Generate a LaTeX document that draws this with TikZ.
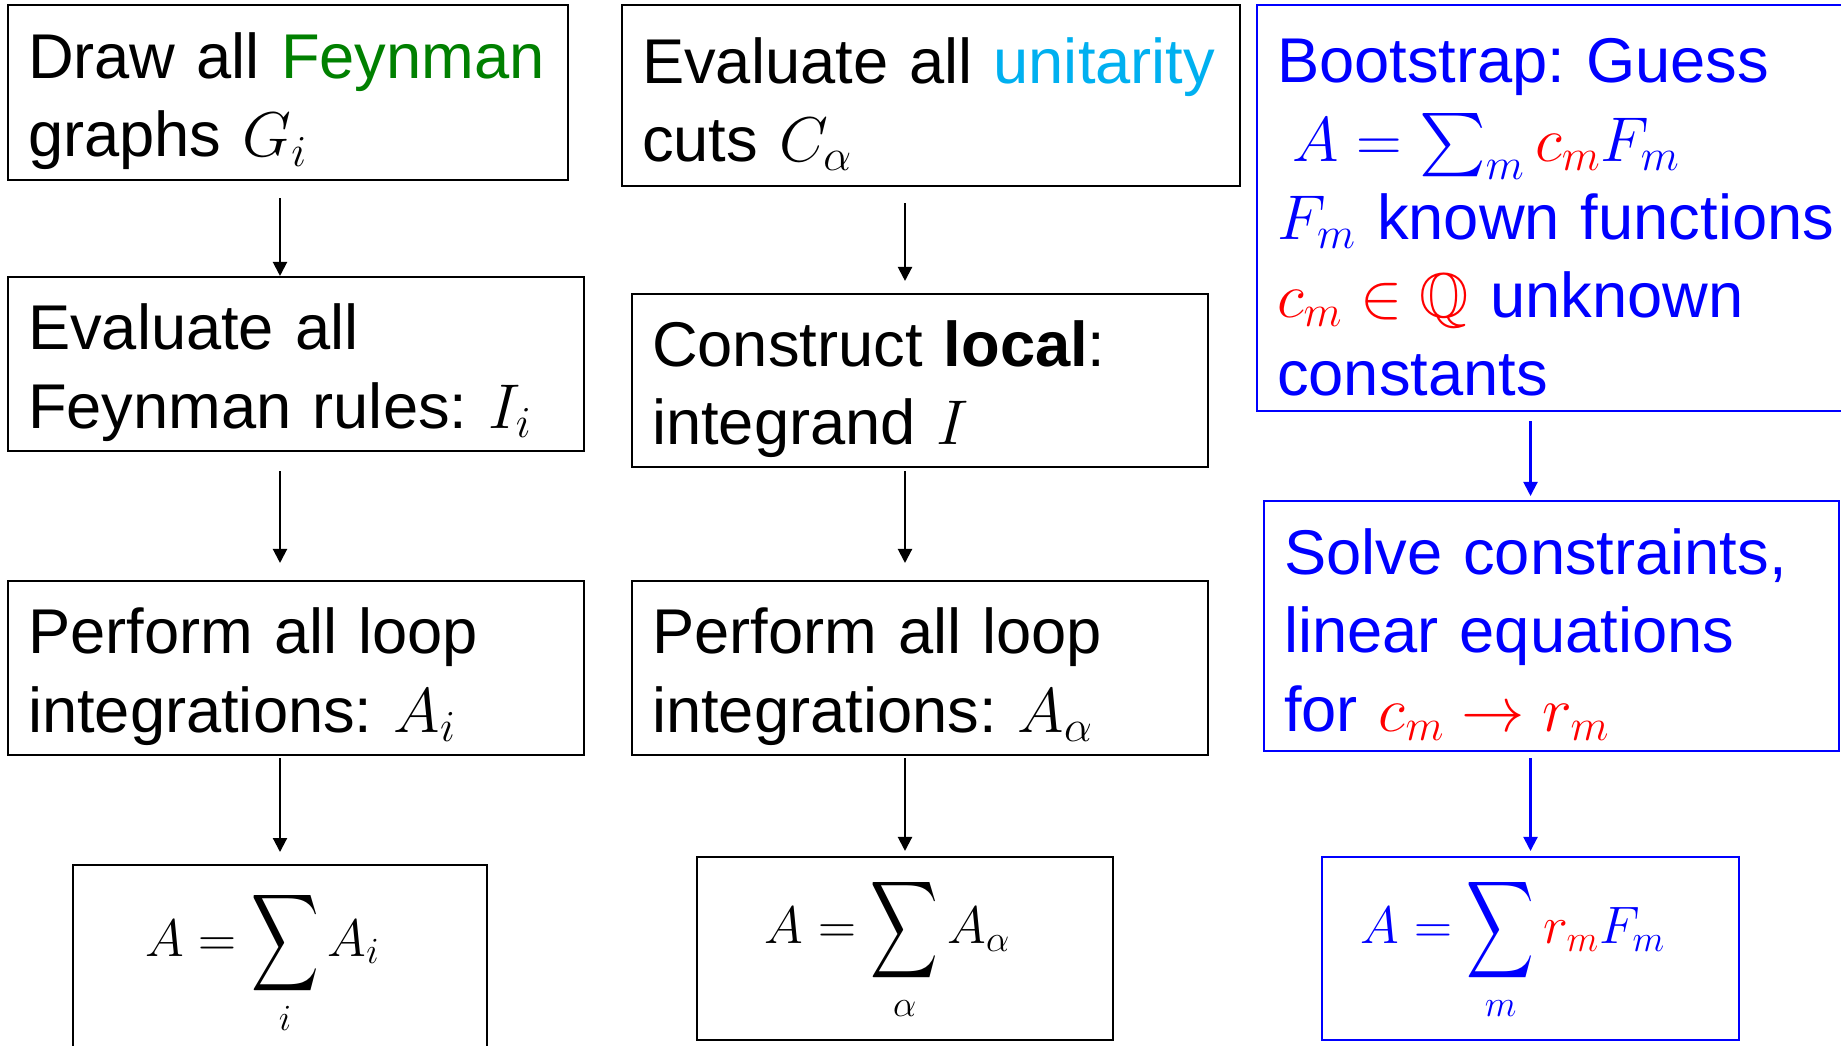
\RequirePackage{fix-cm}
\documentclass[tikz,border=0pt]{standalone}
\usepackage{fontspec}
\setmainfont{Liberation Sans}
\usepackage{amssymb}
\usepackage{graphicx}
\usetikzlibrary{arrows.meta}

\definecolor{feyngreen}{RGB}{0,128,0}
\definecolor{cutcyan}{RGB}{0,176,240}
\definecolor{bootblue}{RGB}{0,0,255}
\definecolor{bootred}{RGB}{255,0,0}

\newcommand{\sumbig}{\mathop{\vcenter{\hbox{\scalebox{0.89}[1.29]{$\displaystyle\sum$}}}}\limits}

\tikzset{
    stepbox/.style = {
        draw,
        shape=rectangle,
        line width=1.2pt,
        inner xsep=0.4cm,
        inner ysep=0pt,
        align=left,
        font=\fontsize{36}{44.5}\selectfont\frenchspacing,
        execute at begin node={\rule{0pt}{1em}}
    },
    sumbox/.style = {
        draw,
        shape=rectangle,
        line width=1.2pt,
        font=\fontsize{30}{36}\selectfont,
        execute at end node={\hspace*{0.7cm}}
    },
    boot/.style = {
        draw=bootblue,
        text=bootblue
    },
    flow/.style = {
        draw,
        line width=1.2pt,
        -{Triangle[length=0.28cm,width=0.28cm]}
    },
}

\begin{document}
\begin{tikzpicture}[x=0.02cm, y=-0.02cm]
            \clip (0,0) rectangle (1841,1045);
            \fill[white] (0,0) rectangle (1841,1045);

            % Feynman graphs
            \node[stepbox, text width=10.4cm, minimum height=3.5cm] (graphs) at (288,92.5) {Draw all \textcolor{feyngreen}{Feynman}\\graphs $G_i$};
            \node[stepbox, text width=10.72cm, minimum height=3.48cm] (rules) at (296,364) {Evaluate all\\Feynman rules: $I_i$};
            \node[stepbox, text width=10.72cm, minimum height=3.48cm] (loopsI) at (296,668) {Perform all loop\\integrations: $A_i$};
            \node[sumbox, anchor=north, inner sep=0pt, minimum width=8.28cm, text height=1.82cm, text depth=2.6cm] (sumI) at (280,864) {$A=\sumbig_i A_i$};

            % unitarity
            \node[stepbox, text width=11.56cm, minimum height=3.62cm] (cuts) at (931,95.5) {Evaluate all \textcolor{cutcyan}{unitarity}\\cuts $C_\alpha$};
            \node[stepbox, text width=10.72cm, minimum height=3.46cm] (local) at (920,380.5) {Construct \textbf{local}:\\integrand $I$};
            \node[stepbox, text width=10.72cm, minimum height=3.48cm] (loopsA) at (920,668) {Perform all loop\\integrations: $A_\alpha$};
            \node[sumbox, minimum width=8.32cm, minimum height=3.66cm] (sumA) at (905,948.5) {$A=\sumbig_\alpha A_\alpha$};

            % bootstrap
            \node[stepbox, boot, anchor=west, text width=12.4cm, minimum height=8.12cm] (guess) at (1256,208) {Bootstrap: Guess\\\hspace*{0.3cm}$A=\sum_m \textcolor{bootred}{c_m}F_m$\\$F_m$ known functions\\\textcolor{bootred}{$c_m\in\mathbb{Q}$} unknown\\constants};
            \node[stepbox, boot, text width=10.7cm, minimum height=5cm] (solve) at (1551.5,626) {Solve constraints,\\linear equations\\for \textcolor{bootred}{$c_m\to r_m$}};
            \node[sumbox, boot, minimum width=8.34cm, minimum height=3.66cm] (sumF) at (1530.5,948.5) {$A=\sumbig_m \textcolor{bootred}{r_m}F_m$};

            \path[flow, shorten <=0.34cm] (graphs.south -| sumI.north) -- (rules.north -| sumI.north);
            \path[flow, shorten <=0.38cm, shorten >=0.34cm] (rules.south -| sumI.north) -- (loopsI.north -| sumI.north);
            \path[flow, shorten <=0.04cm, shorten >=0.24cm] (loopsI.south -| sumI.north) -- (sumI.north);

            \path[flow, shorten <=0.32cm, shorten >=0.24cm] (cuts.south -| sumA.north) -- (local.north -| sumA.north);
            \path[flow, shorten <=0.06cm, shorten >=0.34cm] (local.south -| sumA.north) -- (loopsA.north -| sumA.north);
            \path[flow, shorten <=0.04cm, shorten >=0.1cm] (loopsA.south -| sumA.north) -- (sumA.north);

            \path[flow, bootblue, shorten <=0.18cm, shorten >=0.08cm] (guess.south -| sumF.north) -- (solve.north -| sumF.north);
            \path[flow, bootblue, shorten <=0.12cm, shorten >=0.1cm] (solve.south -| sumF.north) -- (sumF.north);
\end{tikzpicture}
\end{document}
